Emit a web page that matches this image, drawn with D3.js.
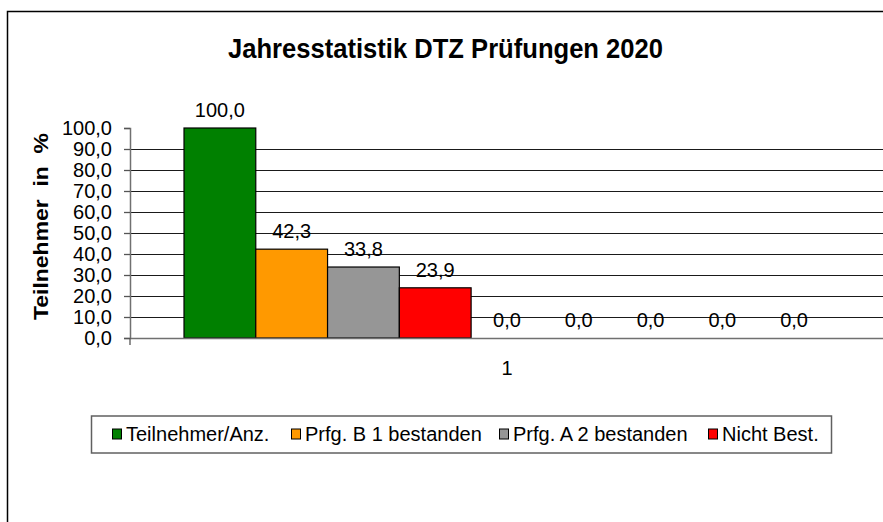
<!DOCTYPE html>
<html>
<head>
<meta charset="utf-8">
<script src="https://cdn.jsdelivr.net/npm/d3@7"></script>
<style>
  body { margin: 0; background: #fff; }
  text { font-family: "Liberation Sans", Arial, sans-serif; fill: #000; }
</style>
</head>
<body>
<div id="chart"></div>
<script>
// chart data
const categories = ["1"];
const seriesNames = ["Teilnehmer/Anz.", "Prfg. B 1 bestanden", "Prfg. A 2 bestanden", "Nicht Best.", "", "", "", "", ""];
const seriesValues = [100.0, 42.3, 33.8, 23.9, 0.0, 0.0, 0.0, 0.0, 0.0];
const seriesColours = ["#008000", "#ff9900", "#969696", "#ff0000", "#9999ff", "#993366", "#ffffcc", "#ccffff", "#660066"];
const yTicks = [0, 10, 20, 30, 40, 50, 60, 70, 80, 90, 100];
const legendCount = 4;

const width = 883, height = 522;
const plot = {left: 130, right: 884, top: 128, bottom: 338};

const de = d3.formatLocale({decimal: ",", thousands: ".", grouping: [3], currency: ["", "€"]});
const fmt = de.format(".1f");

const svg = d3.select("#chart").append("svg")
    .attr("width", width)
    .attr("height", height);

// outer chart frame (runs off the right/bottom edge)
svg.append("rect")
    .attr("x", 7.5).attr("y", 11.5)
    .attr("width", 900).attr("height", 540)
    .attr("fill", "none")
    .attr("stroke", "#000")
    .attr("stroke-width", 1.5);

svg.append("text")
    .attr("x", 228).attr("y", 58)
    .attr("font-size", 28)
    .attr("font-weight", "bold")
    .attr("textLength", 435)
    .attr("lengthAdjust", "spacingAndGlyphs")
    .text("Jahresstatistik DTZ Prüfungen 2020");

const x = d3.scaleBand()
    .domain(categories)
    .range([plot.left, plot.right])
    .paddingInner(0)
    .paddingOuter(0.0836);

const xs = d3.scaleBand()
    .domain(d3.range(seriesValues.length))
    .range([0, x.bandwidth()]);

const y = d3.scaleLinear()
    .domain([0, 100])
    .range([plot.bottom, plot.top]);

// gridlines (none at the top value)
svg.append("g")
    .selectAll("line")
    .data(yTicks.filter(t => t > 0 && t < 100))
    .join("line")
    .attr("x1", plot.left).attr("x2", plot.right)
    .attr("y1", d => Math.round(y(d)) + 0.5)
    .attr("y2", d => Math.round(y(d)) + 0.5)
    .attr("stroke", "#1a1a1a")
    .attr("stroke-width", 1.2);

// y axis
const yAxis = svg.append("g")
    .attr("transform", `translate(${plot.left},0)`)
    .call(d3.axisLeft(y).tickValues(yTicks).tickSize(6).tickFormat(fmt));
yAxis.select(".domain").attr("stroke", "#707070").attr("stroke-width", 1.5);
yAxis.selectAll(".tick line").attr("stroke", "#555").attr("stroke-width", 1.3);
yAxis.selectAll(".tick text")
    .attr("x", -18)
    .attr("font-size", 20)
    .attr("font-family", "Liberation Sans, Arial, sans-serif")
    .attr("dy", "0.3em");

svg.append("text")
    .attr("transform", `translate(48,${(133 + 320) / 2}) rotate(-90)`)
    .attr("text-anchor", "middle")
    .attr("font-size", 21)
    .attr("font-weight", "bold")
    .attr("textLength", 187)
    .attr("lengthAdjust", "spacingAndGlyphs")
    .style("white-space", "pre")
    .text("Teilnehmer  in  %");

// bars
const groups = svg.append("g")
    .selectAll("g")
    .data(categories)
    .join("g")
    .attr("transform", d => `translate(${x(d)},0)`);

groups.selectAll("rect")
    .data(seriesValues.map((v, i) => ({i, v})))
    .join("rect")
    .attr("x", d => xs(d.i))
    .attr("y", d => y(d.v))
    .attr("width", xs.bandwidth())
    .attr("height", d => y(0) - y(d.v))
    .attr("fill", d => seriesColours[d.i])
    .attr("stroke", "#000")
    .attr("stroke-width", d => d.v > 0 ? 1.2 : 0);

groups.selectAll("text")
    .data(seriesValues.map((v, i) => ({i, v})))
    .join("text")
    .attr("x", d => xs(d.i) + xs.bandwidth() / 2)
    .attr("y", d => y(d.v) - 11)
    .attr("text-anchor", "middle")
    .attr("font-size", 20)
    .text(d => fmt(d.v));

// category axis
const xAxis = svg.append("g")
    .attr("transform", `translate(0,${plot.bottom})`)
    .call(d3.axisBottom(x).tickSize(0).tickPadding(0));
xAxis.select(".domain").attr("stroke", "#707070").attr("stroke-width", 1.5);
xAxis.selectAll(".tick text")
    .attr("y", 37)
    .attr("dy", 0)
    .attr("font-size", 20)
    .attr("font-family", "Liberation Sans, Arial, sans-serif");
svg.append("line")
    .attr("x1", plot.left).attr("x2", plot.left)
    .attr("y1", plot.bottom).attr("y2", plot.bottom + 7)
    .attr("stroke", "#555").attr("stroke-width", 1.3);

// legend
const legend = svg.append("g");
legend.append("rect")
    .attr("x", 91.5).attr("y", 416)
    .attr("width", 740).attr("height", 37)
    .attr("fill", "#fff")
    .attr("stroke", "#606060")
    .attr("stroke-width", 1.5);

const legendX = [112, 291, 499, 708];
const items = legend.selectAll(".legend-item")
    .data(d3.range(legendCount))
    .join("g")
    .attr("class", "legend-item")
    .attr("transform", i => `translate(${legendX[i]},0)`);
items.append("rect")
    .attr("x", 0.5).attr("y", 429)
    .attr("width", 9).attr("height", 10)
    .attr("fill", i => seriesColours[i])
    .attr("stroke", "#000");
items.append("text")
    .attr("x", 14).attr("y", 441)
    .attr("font-size", 20)
    .text(i => seriesNames[i]);
</script>
</body>
</html>
